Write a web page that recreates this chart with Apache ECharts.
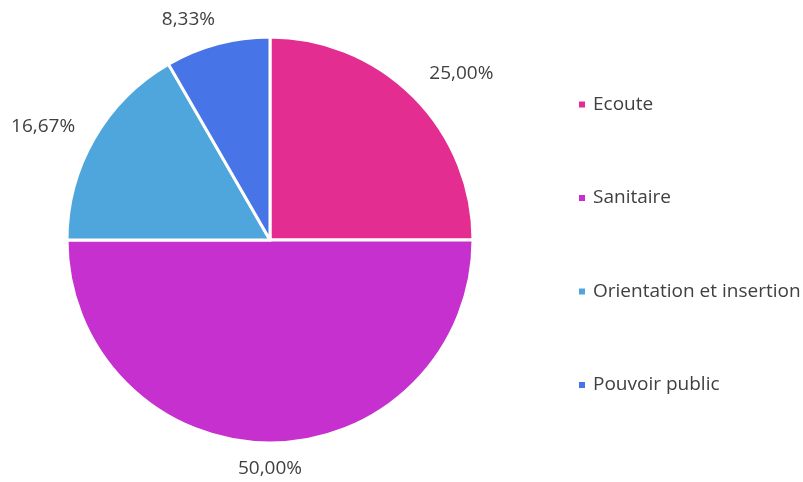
<!DOCTYPE html>
<html>
<head>
<meta charset="utf-8">
<script src="https://cdn.jsdelivr.net/npm/echarts@6/dist/echarts.min.js"></script>
<style>
  html, body { margin: 0; padding: 0; background: #ffffff; }
  #chart { width: 803px; height: 482px; }
</style>
</head>
<body>
<div id="chart"></div>
<script>
// Répartition par type d'intervention
const categories = ['Ecoute', 'Sanitaire', 'Orientation et insertion', 'Pouvoir public'];
const counts = [3, 6, 2, 1];
const colors = ['#E32D91', '#C530CE', '#4EA6DC', '#4775E7'];

// Small per-slice label nudges (px) on top of the radial placement
const labelNudge = [[11, -2], [0, -4], [-6, 3], [-17, 4]];
const LABEL_GAP = 20;

const chart = echarts.init(document.getElementById('chart'), null, { renderer: 'canvas' });

const fontFamily = '"Open Sans", "Noto Sans", sans-serif';

chart.setOption({
  animation: false,
  color: colors,
  legend: {
    orient: 'vertical',
    left: 572,
    top: 90,
    itemWidth: 8,
    itemHeight: 8,
    itemGap: 74.5,
    icon: 'rect',
    textStyle: { fontFamily: fontFamily, fontSize: 19, color: '#404040', padding: [0, 0, 0, 2] },
    data: categories
  },
  series: [{
    type: 'pie',
    center: [270, 240],
    radius: 203,
    startAngle: 90,
    clockwise: true,
    avoidLabelOverlap: false,
    percentPrecision: 2,
    itemStyle: { borderColor: '#ffffff', borderWidth: 3 },
    label: {
      show: true,
      position: 'outside',
      fontFamily: fontFamily,
      fontSize: 19,
      color: '#404040',
      formatter: function (p) { return p.percent.toFixed(2).replace('.', ',') + '%'; }
    },
    labelLine: { show: true, length: 10, length2: 0, lineStyle: { width: 0, opacity: 0 } },
    labelLayout: function (p) {
      const pts = p.labelLinePoints;
      if (!pts) return {};
      const a = pts[0], b = pts[1];
      const len = Math.hypot(b[0] - a[0], b[1] - a[1]) || 1;
      const ux = (b[0] - a[0]) / len, uy = (b[1] - a[1]) / len;
      const w = p.labelRect.width, h = p.labelRect.height;
      const n = labelNudge[p.dataIndex] || [0, 0];
      return {
        x: a[0] + ux * LABEL_GAP + ux * w / 2 + n[0],
        y: a[1] + uy * LABEL_GAP + uy * h / 2 + n[1],
        align: 'center',
        verticalAlign: 'middle'
      };
    },
    emphasis: { disabled: true },
    data: categories.map(function (name, i) { return { name: name, value: counts[i] }; })
  }]
});
</script>
</body>
</html>
